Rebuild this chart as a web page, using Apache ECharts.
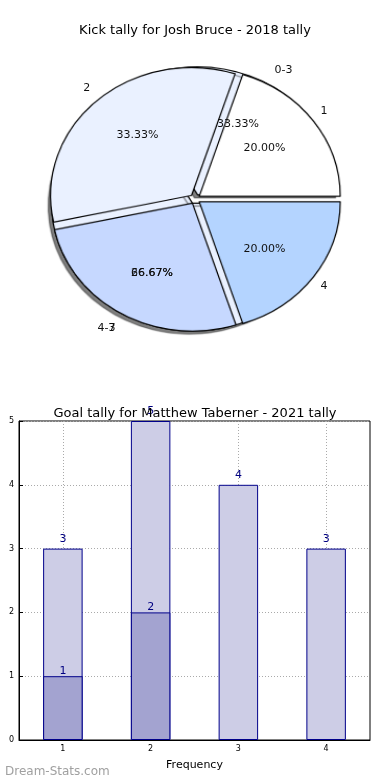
<!DOCTYPE html>
<html>
<head>
<meta charset="utf-8">
<script src="https://cdn.jsdelivr.net/npm/echarts@6/dist/echarts.min.js"></script>
<style>
html,body{margin:0;padding:0;background:#fff}
#wrap{position:relative;width:390px;height:780px}
#pie{position:absolute;left:0;top:0;width:390px;height:400px;transform-origin:195px 199px}
#c{position:absolute;left:0;top:0;width:390px;height:780px}
</style>
</head>
<body>
<div id="wrap"><div id="pie"></div><div id="c"></div></div>
<script>
// ---- data ----
var pieTitle = 'Kick tally for Josh Bruce - 2018 tally';
var rangeNames = ['0-3', '4-7'];
var rangeValues = [5, 10];
var kickNames = ['1', '2', '3', '4'];
var kickValues = [3, 5, 4, 3];

var barTitle = 'Goal tally for Matthew Taberner - 2021 tally';
var barCategories = ['1', '2', '3', '4'];
var totalValues = [3, 5, 4, 3];
var subValues = [1, 2, null, null];
var xAxisName = 'Frequency';
var yTicks = [0, 1, 2, 3, 4, 5];

// ---- styles ----
var FONT = 'DejaVu Sans';
var rangeColors = ['#eaf1ff', '#eaf1ff'];
var kickColors = ['#ffffff', '#eaf1ff', '#c6d8ff', '#b4d4ff'];
var center = [195, 199];
var R = 135;            // base pie radius
var RX = 141, RY = 128; // elliptical look of the reference (matplotlib non-equal aspect)
var EXPLODE = 5;
document.getElementById('pie').style.transform = 'scale(' + (RX / R) + ',' + (RY / R) + ')';

function items(names, values, colors) {
  return names.map(function (n, i) {
    var o = { name: n, value: values[i], selected: true };
    if (colors) o.itemStyle = { color: colors[i] };
    return o;
  });
}
function pctFmt(p) { return p.percent.toFixed(2) + '%'; }
var transparentItem = { color: 'rgba(0,0,0,0)', borderWidth: 0 };
var noHide = { hideOverlap: false };

// pie shapes (in scaled layer)
var pieChart = echarts.init(document.getElementById('pie'), null, { renderer: 'canvas' });
pieChart.setOption({
  animation: false,
  series: [
    {
      type: 'pie', center: center, radius: [0, R], startAngle: 0, clockwise: false,
      selectedMode: 'multiple', selectedOffset: EXPLODE,
      silent: true, z: 1, label: { show: false }, labelLine: { show: false },
      itemStyle: { borderColor: '#000', borderWidth: 1.2, shadowColor: 'rgba(0,0,0,0.5)', shadowOffsetX: -3, shadowOffsetY: 3, shadowBlur: 1 },
      data: items(rangeNames, rangeValues, rangeColors)
    },
    {
      type: 'pie', center: center, radius: [0, R], startAngle: 0, clockwise: false,
      selectedMode: 'multiple', selectedOffset: EXPLODE,
      silent: true, z: 2, label: { show: false }, labelLine: { show: false },
      itemStyle: { borderColor: '#000', borderWidth: 1.2 },
      data: items(kickNames, kickValues, kickColors)
    }
  ]
});

var LR = 78;   // percent label radius
var NR = 135;  // name label base radius

function pctSeries(names, values, z) {
  return {
    type: 'pie', center: center, radius: [0, LR * 2], startAngle: 0, clockwise: false,
    selectedMode: 'multiple', selectedOffset: EXPLODE,
    silent: true, z: z, itemStyle: transparentItem, avoidLabelOverlap: false, labelLayout: noHide,
    label: { show: true, position: 'inside', formatter: pctFmt, fontFamily: FONT, fontSize: 11, color: '#111' },
    labelLine: { show: false },
    data: items(names, values, null)
  };
}
function nameSeries(names, values, z) {
  return {
    type: 'pie', center: center, radius: [0, NR], startAngle: 0, clockwise: false,
    selectedMode: 'multiple', selectedOffset: EXPLODE,
    silent: true, z: z, itemStyle: transparentItem, avoidLabelOverlap: false, labelLayout: noHide,
    label: { show: true, position: 'outside', formatter: '{b}', fontFamily: FONT, fontSize: 11, color: '#111', distanceToLabelLine: 5 },
    labelLine: { show: false, length: 9, length2: 0 },
    data: items(names, values, null)
  };
}

var option = {
  animation: false,
  backgroundColor: 'transparent',
  textStyle: { fontFamily: FONT },
  title: [
    { text: pieTitle, left: 'center', top: 19, textStyle: { fontFamily: FONT, fontSize: 13, fontWeight: 'normal', color: '#000' } },
    { text: barTitle, left: 'center', top: 402, textStyle: { fontFamily: FONT, fontSize: 13, fontWeight: 'normal', color: '#000' } },
    { text: 'Dream-Stats.com', left: 0, top: 761, textStyle: { fontFamily: FONT, fontSize: 12, fontWeight: 'normal', color: '#a0a0a0' } }
  ],
  grid: { left: 19, right: 20, top: 421, bottom: 40, show: true, borderColor: '#000', borderWidth: 1, backgroundColor: 'transparent' },
  xAxis: {
    type: 'category', data: barCategories,
    name: xAxisName, nameLocation: 'middle', nameGap: 20,
    nameTextStyle: { fontFamily: FONT, fontSize: 11, color: '#000' },
    axisLine: { lineStyle: { color: '#000', width: 1 } },
    axisTick: { show: true, inside: true, length: 4, alignWithLabel: true, lineStyle: { color: '#000' } },
    axisLabel: { fontFamily: FONT, fontSize: 8, color: '#000', margin: 5 },
    splitLine: { show: true, alignWithLabel: true, lineStyle: { color: '#aaaaaa', type: [1, 2], width: 1 } }
  },
  yAxis: {
    type: 'value', min: 0, max: 5, interval: 1,
    axisLine: { show: true, lineStyle: { color: '#000', width: 1 } },
    axisTick: { show: true, inside: true, length: 4, lineStyle: { color: '#000' } },
    axisLabel: { fontFamily: FONT, fontSize: 8, color: '#000', margin: 5,
      formatter: function (v) { return yTicks.indexOf(v) >= 0 ? String(v) : ''; } },
    splitLine: { show: true, lineStyle: { color: '#aaaaaa', type: [1, 2], width: 1 } }
  },
  series: [
    pctSeries(rangeNames, rangeValues, 5),
    pctSeries(kickNames, kickValues, 6),
    nameSeries(rangeNames, rangeValues, 5),
    nameSeries(kickNames, kickValues, 6),
    {
      type: 'bar', data: totalValues, barWidth: '45%', barGap: '-100%', z: 3,
      itemStyle: { color: '#cdcde6', borderColor: '#00008b', borderWidth: 1 },
      label: { show: true, position: 'top', distance: 4, fontFamily: FONT, fontSize: 11, color: '#000080' }
    },
    {
      type: 'bar', data: subValues, barWidth: '45%', barGap: '-100%', z: 4,
      itemStyle: { color: '#a3a3d0', borderColor: '#00008b', borderWidth: 1 },
      label: { show: true, position: 'top', distance: 0, fontFamily: FONT, fontSize: 11, color: '#000080' }
    }
  ]
};
var chart = echarts.init(document.getElementById('c'), null, { renderer: 'canvas' });
chart.setOption(option);
</script>
</body>
</html>
